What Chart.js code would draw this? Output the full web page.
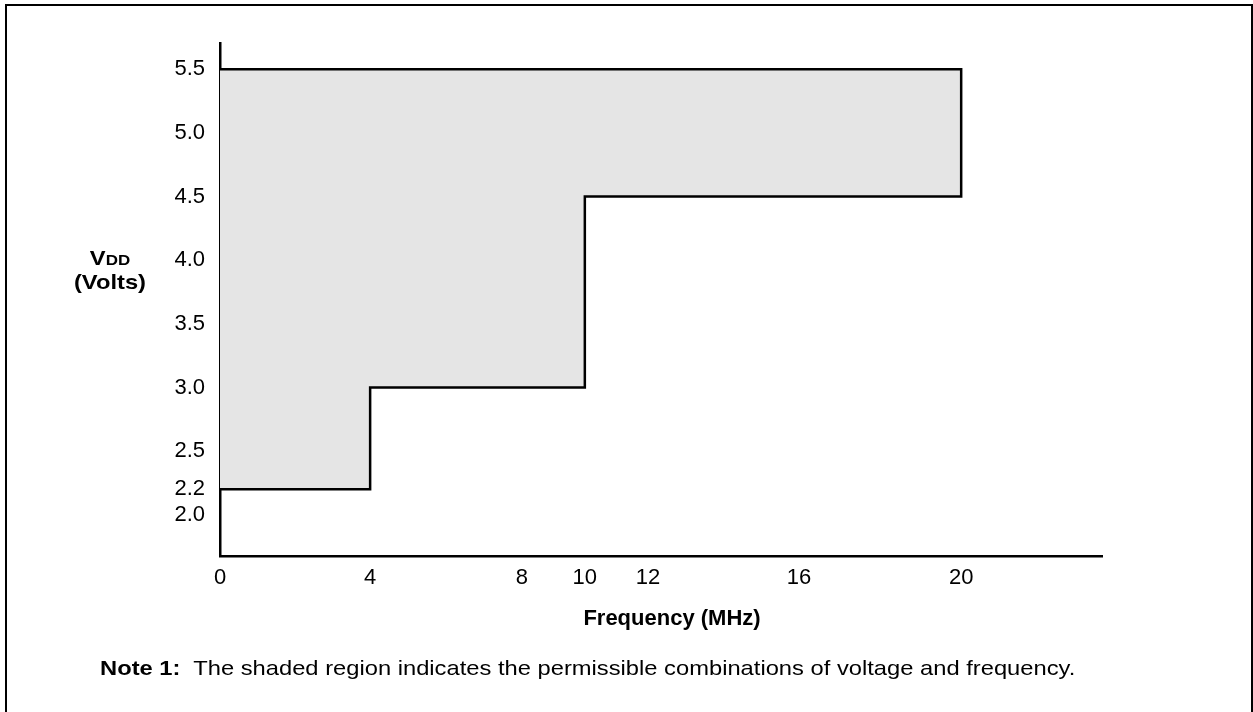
<!DOCTYPE html>
<html>
<head>
<meta charset="utf-8">
<script src="https://cdn.jsdelivr.net/npm/chart.js@4.4.1/dist/chart.umd.min.js"></script>
<style>
  html, body { margin: 0; padding: 0; background: #fff; }
  body { width: 1253px; height: 712px; position: relative; overflow: hidden;
         font-family: "Liberation Sans", Arial, sans-serif; color: #000; }
  #frame { position: absolute; left: 5px; top: 4px; width: 1244px; height: 800px; border: 2px solid #000; }
  #chart { position: absolute; left: 0; top: 0; }
  #ylabel { position: absolute; left: 60px; top: 247px; width: 100px; text-align: center;
            font-weight: bold; font-size: 21px; line-height: 22px;
            transform: scaleX(1.13); transform-origin: center; }
  #ylabel .sub { font-size: 15px; }
  #note { position: absolute; left: 100px; top: 656px; font-size: 21px; line-height: 24px;
          white-space: pre; transform: scaleX(1.13); transform-origin: left; }
</style>
</head>
<body>
<div id="frame"></div>
<canvas id="chart" width="1253" height="712"></canvas>
<div id="ylabel">V<span class="sub">DD</span><br>(Volts)</div>
<div id="note"><b>Note 1:</b>  The shaded region indicates the permissible combinations of voltage and frequency.</div>
<script>
// --- data ---
const FREQ_TICKS = [0, 4, 8, 10, 12, 16, 20];
const VDD_TICKS = [2.0, 2.2, 2.5, 3.0, 3.5, 4.0, 4.5, 5.0, 5.5];
// outline of the permitted region (MHz, volts)
const REGION_FREQ = [0, 20, 20, 10, 10, 4, 4, 0];
const REGION_VDD = [5.5, 5.5, 4.5, 4.5, 3.0, 3.0, 2.2, 2.2];

// --- axis layout: the frequency axis in the original is not evenly spaced ---
const X_MAX = 23.5;
const X_KNOTS = FREQ_TICKS.concat([X_MAX]);
const X_KNOT_OFFSETS = [0, 150, 301.5, 364.5, 427.5, 578.5, 740.5, 881.2]; // px along axis
const X_TITLE_SHIFT = 11; // title sits a little right of the axis centre
const Y_MIN = 1.676, Y_MAX = 5.707;

const FONT = { family: '"Liberation Sans", Arial, sans-serif', size: 22 };

function toFrac(v) {
  const total = X_KNOT_OFFSETS[X_KNOT_OFFSETS.length - 1];
  for (let i = 0; i < X_KNOTS.length - 1; i++) {
    if (v <= X_KNOTS[i + 1] || i === X_KNOTS.length - 2) {
      const t = (v - X_KNOTS[i]) / (X_KNOTS[i + 1] - X_KNOTS[i]);
      return (X_KNOT_OFFSETS[i] + t * (X_KNOT_OFFSETS[i + 1] - X_KNOT_OFFSETS[i])) / total;
    }
  }
  return 0;
}

function fromFrac(f) {
  const total = X_KNOT_OFFSETS[X_KNOT_OFFSETS.length - 1];
  const px = f * total;
  for (let i = 0; i < X_KNOTS.length - 1; i++) {
    if (px <= X_KNOT_OFFSETS[i + 1] || i === X_KNOTS.length - 2) {
      const t = (px - X_KNOT_OFFSETS[i]) / (X_KNOT_OFFSETS[i + 1] - X_KNOT_OFFSETS[i]);
      return X_KNOTS[i] + t * (X_KNOTS[i + 1] - X_KNOTS[i]);
    }
  }
  return 0;
}

class PiecewiseScale extends Chart.LinearScale {
  getPixelForValue(value) {
    if (value === null || value === undefined || isNaN(value)) return NaN;
    return this.left + this.width * toFrac(value);
  }
  getValueForPixel(pixel) {
    return fromFrac((pixel - this.left) / this.width);
  }
  drawTitle() {
    this.ctx.save();
    this.ctx.translate(X_TITLE_SHIFT, 0);
    super.drawTitle();
    this.ctx.restore();
  }
}
PiecewiseScale.id = 'piecewise';
Chart.register(PiecewiseScale);

const points = REGION_FREQ.map((f, i) => ({ x: f, y: REGION_VDD[i] }));

new Chart(document.getElementById('chart'), {
  type: 'line',
  data: {
    datasets: [{
      data: points,
      borderColor: '#000',
      borderWidth: 2.5,
      backgroundColor: '#e5e5e5',
      fill: 'shape',
      pointRadius: 0,
      tension: 0,
      borderJoinStyle: 'miter',
    }]
  },
  options: {
    responsive: false,
    animation: false,
    events: [],
    layout: { padding: { top: 43, right: 151, left: 0, bottom: 0 } },
    plugins: { legend: { display: false }, tooltip: { enabled: false } },
    scales: {
      x: {
        type: 'piecewise',
        min: 0,
        max: X_MAX,
        afterBuildTicks: s => { s.ticks = FREQ_TICKS.map(v => ({ value: v })); },
        afterFit: s => { s.height = 156; },
        grid: { display: false, drawTicks: false },
        border: { color: '#000', width: 2.5 },
        ticks: { color: '#000', font: FONT, padding: 9, maxRotation: 0, autoSkip: false,
                 callback: v => String(v) },
        title: { display: true, text: 'Frequency (MHz)', color: '#000',
                 font: Object.assign({}, FONT, { weight: 'bold' }),
                 padding: { top: 0, bottom: 80 } },
      },
      y: {
        min: Y_MIN,
        max: Y_MAX,
        afterBuildTicks: s => { s.ticks = VDD_TICKS.map(v => ({ value: v })); },
        afterFit: s => { s.width = 220; },
        grid: { display: false, drawTicks: false },
        border: { color: '#000', width: 2.5 },
        ticks: { color: '#000', font: FONT, padding: 15, autoSkip: false,
                 callback: v => Number(v).toFixed(1) },
      }
    }
  }
});
</script>
</body>
</html>
